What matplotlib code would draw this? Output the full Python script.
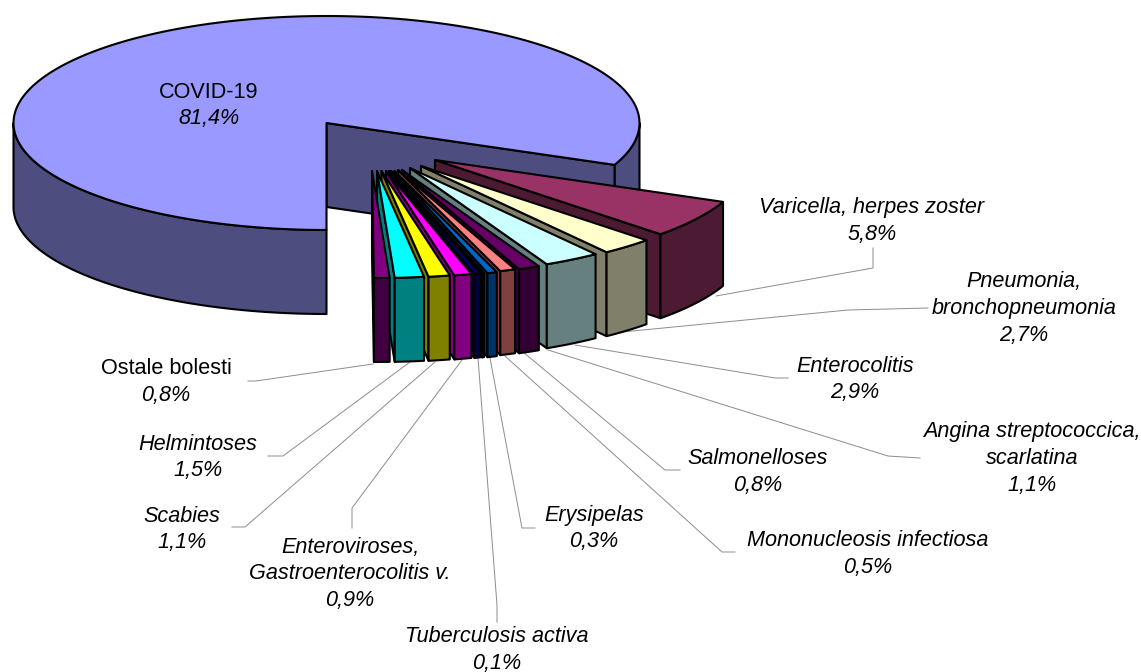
import matplotlib
matplotlib.use("Agg")
import matplotlib.pyplot as plt
import numpy as np
from matplotlib.patches import Polygon

plt.rcParams["font.family"] = ["Liberation Sans", "DejaVu Sans"]

# slices in drawing order, clockwise from the bottom of the pie
slice_names = [
    "COVID-19", "Varicella, herpes zoster", "Pneumonia,\nbronchopneumonia",
    "Enterocolitis", "Angina streptococcica,\nscarlatina", "Salmonelloses",
    "Mononucleosis infectiosa", "Tuberculosis activa", "Erysipelas",
    "Enteroviroses,\nGastroenterocolitis v.", "Scabies", "Helmintoses",
    "Ostale bolesti",
]
slice_values = [81.4, 5.8, 2.7, 2.9, 1.1, 0.8, 0.5, 0.1, 0.3, 0.9, 1.1, 1.5, 0.8]

top_colors = ["#9999ff", "#993366", "#ffffcc", "#ccffff", "#660066", "#ff8080", "#0066cc",
              "#ccccff", "#000080", "#ff00ff", "#ffff00", "#00ffff", "#800080"]
side_colors = ["#4d4d80", "#4d1a33", "#80806a", "#668080", "#330033", "#804040", "#003366",
               "#666680", "#000040", "#800080", "#808000", "#008080", "#400040"]

# layout, in pixels
CX, CY = 326.5, 123
RX, RY = 313, 107
DEPTH = 84
apex_x = [326.5, 435, 421, 410, 402, 398, 394.5, 391, 389, 386, 381.5, 377, 372]
apex_y = [123, 160, 166, 168, 170, 170, 171, 171, 171, 171, 171, 171, 171]

label_pos = [(209, 92), (872, 208), (1024, 282), (855, 366), (1032, 432), (758, 459),
             (868, 541), (497, 637), (594, 515), (350, 547), (182, 516), (198, 444), (166, 369)]
upright_names = ["COVID-19", "Ostale bolesti"]

leaders = {
    "Varicella, herpes zoster": [(873, 248), (873, 268), (716, 296)],
    "Pneumonia,\nbronchopneumonia": [(928, 308), (848, 310), (612, 333)],
    "Enterocolitis": [(788, 378), (775, 378), (575, 345)],
    "Angina streptococcica,\nscarlatina": [(920, 458), (888, 456), (548, 350)],
    "Salmonelloses": [(680, 470), (665, 470), (523, 352)],
    "Mononucleosis infectiosa": [(735, 552), (722, 552), (505, 356)],
    "Erysipelas": [(535, 528), (522, 528), (490, 358)],
    "Tuberculosis activa": [(497, 622), (497, 605), (478, 358)],
    "Enteroviroses,\nGastroenterocolitis v.": [(352, 528), (352, 508), (462, 360)],
    "Scabies": [(232, 527), (245, 527), (435, 362)],
    "Helmintoses": [(268, 456), (283, 456), (410, 362)],
    "Ostale bolesti": [(248, 381), (256, 381), (373, 364)],
}


def arc(cx, cy, t0, t1):
    t = np.radians(np.linspace(t0, t1, 200))
    return np.column_stack([cx + RX * np.cos(t), cy - RY * np.sin(t)])


def down(pts):
    return pts + np.array([0, DEPTH])


def face(ax, pts, color, z):
    ax.add_patch(Polygon(pts, closed=True, facecolor=color, edgecolor="black",
                         linewidth=1.5, joinstyle="round", zorder=z))


fig = plt.figure(figsize=(11.41, 6.72), dpi=100)
ax = fig.add_axes([0, 0, 1, 1])
ax.set_xlim(0, 1141)
ax.set_ylim(672, 0)
ax.axis("off")

for name, pts in leaders.items():
    xs, ys = zip(*pts)
    ax.plot(xs, ys, color="#8c8c8c", linewidth=0.7, zorder=1)

start = 270.0
z = 2
for i, value in enumerate(slice_values):
    end = start - value * 3.6
    ax_, ay_ = apex_x[i], apex_y[i]
    top = arc(ax_, ay_, start, end)
    apex = np.array([[ax_, ay_]])
    if i == 0:
        # main slice: far right rim, cut face, near left rim, then the top
        rim = arc(ax_, ay_, end, 0)
        face(ax, np.vstack([rim, down(rim)[::-1]]), side_colors[i], z)
        cut = np.vstack([apex, top[-1:]])
        face(ax, np.vstack([cut, down(cut)[::-1]]), side_colors[i], z + 1)
        rim = arc(ax_, ay_, 180, 270)
        face(ax, np.vstack([rim, down(rim)[::-1]]), side_colors[i], z + 2)
    else:
        # left cut face and the front rim of the pulled out slice
        cut = np.vstack([apex, top[-1:]])
        face(ax, np.vstack([cut, down(cut)[::-1]]), side_colors[i], z)
        face(ax, np.vstack([top, down(top)[::-1]]), side_colors[i], z + 1)
    face(ax, np.vstack([apex, top]), top_colors[i], z + 3)
    start = end
    z += 4

for name, value, (x, y) in zip(slice_names, slice_values, label_pos):
    lines = name.split("\n") + [f"{value:.1f}%".replace(".", ",")]
    for j, line in enumerate(lines):
        is_name = j < len(lines) - 1
        style = "normal" if is_name and name in upright_names else "italic"
        ax.text(x, y + j * 26.7, line, ha="center", va="center", fontsize=15.6,
                style=style, color="black", zorder=100)

fig.savefig("out.png", dpi=100)
plt.close(fig)
